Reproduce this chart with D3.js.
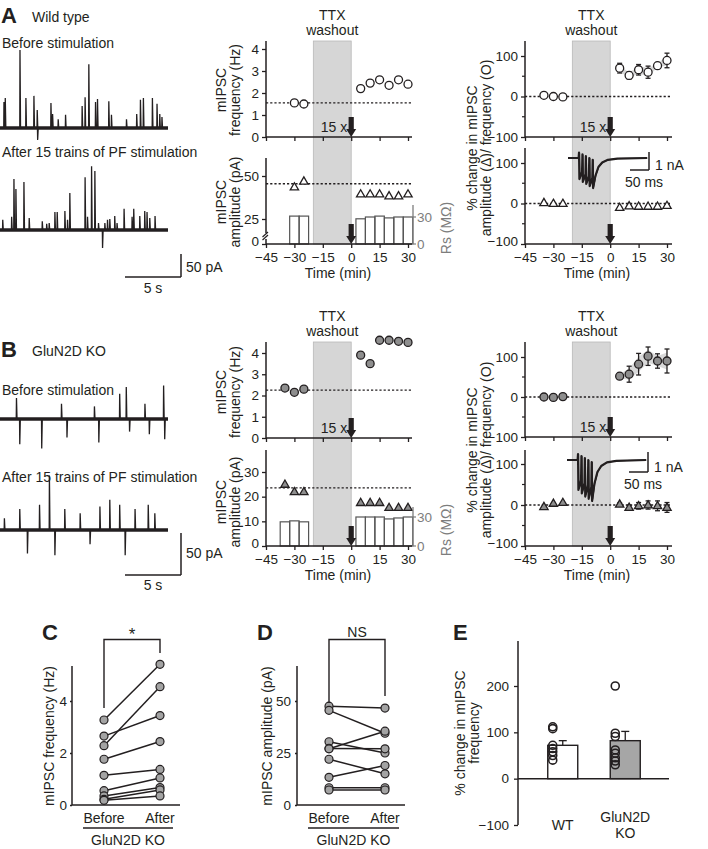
<!DOCTYPE html>
<html><head><meta charset="utf-8">
<script src="https://cdn.jsdelivr.net/npm/d3@7/dist/d3.min.js"></script>
<style>
body{margin:0;background:#fff;}
svg text{font-family:"Liberation Sans",Arial,Helvetica,sans-serif;fill:#231f20;}
</style></head><body>
<svg id="fig" width="708" height="849"></svg>
<script>
// ---------------- DATA ----------------
const timeTicks = [-45, -30, -15, 0, 15, 30];
const washout = [-20, 0];

// Panel A (wild type) – raw values
const aFreqT = [-30, -25, 5, 10, 15, 20, 25, 30];
const aFreq = [1.55, 1.5, 2.2, 2.45, 2.6, 2.35, 2.6, 2.4];
const aFreqBaseline = 1.55;
const aAmpT = [-30, -25, 5, 10, 15, 20, 25, 30];
const aAmp = [43.6, 47, 39.5, 39.5, 39.5, 38.4, 38.4, 39.5];
const aAmpBaseline = 45.5;
const aRsT = [-30, -25, 5, 10, 15, 20, 25, 30];
const aRs = [31, 31, 28, 30, 31, 29, 30, 30];
// Panel A – % change
const aPctT = [-35, -30, -25, 5, 10, 15, 20, 25, 30];
const aPctFreq = [3, 0, -1, 70, 52, 66, 60, 76, 89];
const aPctFreqErr = [0, 0, 0, 12, 9, 13, 15, 6, 18];
const aPctAmp = [2, 0, 0, -10, -6, -7, -7, -7, -5];
const aPctAmpErr = [0, 0, 0, 2, 2, 2, 2, 2, 2];

// Panel B (GluN2D KO) – raw values
const bFreqT = [-35, -30, -25, 5, 10, 15, 20, 25, 30];
const bFreq = [2.35, 2.15, 2.3, 3.9, 3.5, 4.6, 4.6, 4.55, 4.5];
const bFreqBaseline = 2.25;
const bAmpT = [-35, -30, -25, 5, 10, 15, 20, 25, 30];
const bAmp = [25, 22, 22, 17.6, 17.6, 17.6, 15.6, 15.6, 15.6];
const bAmpBaseline = 23.6;
const bRsT = [-35, -30, -25, 5, 10, 15, 20, 25, 30];
const bRs = [25, 26, 25, 30, 30, 30, 28, 29, 30];
// Panel B – % change
const bPctT = [-35, -30, -25, 5, 10, 15, 20, 25, 30];
const bPctFreq = [0, -1, 1, 52, 57, 82, 102, 90, 90];
const bPctFreqErr = [0, 0, 0, 8, 20, 27, 23, 18, 30];
const bPctAmp = [-4, 4, 6, 2, -6, -2, 0, -2, -6];
const bPctAmpErr = [0, 0, 0, 3, 5, 8, 10, 12, 12];

// Example mIPSC traces: event time (s) and amplitude (pA)
const aBeforeT = [0.36,0.48,1.82,2.36,3.09,3.39,3.43,4.64,4.79,5.3,5.97,7.48,7.75,8.09,8.7,8.88,9.91,10.15,11.52,12.45,12.79,13.06,13.88,14.3,14.55,14.75];
const aBeforeA = [59,68,177,68,73,41,-27,57,32,20,30,50,70,145,59,66,61,30,20,32,64,68,68,55,32,25];
const aAfterT = [0.25,1.06,1.27,1.45,2.18,2.66,3.85,4.25,4.48,5.0,5.21,5.91,6.15,6.36,7.75,7.97,8.34,8.64,8.97,9.34,9.55,9.79,10.0,10.45,10.66,11.3,12.03,12.18,12.73,13.18,13.39,13.64,14.12];
const aAfterA = [23,30,116,93,109,27,20,14,16,41,41,43,23,84,120,30,145,134,16,-41,16,23,25,32,16,48,30,48,32,43,41,27,32];
const bBeforeT = [1.5,1.8,3.8,5.6,6.1,8.6,9.0,10.9,11.5,11.8,13.2,13.6,14.9,15.0];
const bBeforeA = [25,-30,-35,18,-22,15,-28,30,38,-15,18,-18,40,-24];
const bAfterT = [0.4,1.8,2.5,3.6,4.5,5.0,5.9,7.3,8.2,9.1,10.0,10.9,11.4,12.3,13.5,14.1];
const bAfterA = [14,25,-28,30,65,-30,25,20,-17,28,36,30,-30,25,30,20];

// EPSC insets (time ms, current nA)
const insetT = [0,28,29,30,37,38,39,46,47,48,55,56,57,64,65,66,72,80,90,105,130,208];
const insetA = [0,0,0.3,-1.17,-0.75,0.2,-1.33,-0.9,0.1,-1.44,-1.0,0,-1.56,-1.1,-0.1,-1.67,-1.0,-0.5,-0.25,-0.1,-0.03,0];
const insetB = [0,0,0.3,-1.5,-1.0,0.2,-1.67,-1.15,0.1,-1.83,-1.25,0,-1.94,-1.35,-0.1,-2.05,-1.2,-0.6,-0.3,-0.12,-0.04,0];

// Panel C: frequency (Hz) before/after
const cBefore = [3.27, 2.28, 2.65, 1.76, 1.14, 0.55, 0.35, 0.22, 0.18];
const cAfter = [5.41, 4.55, 3.44, 2.44, 1.37, 1.04, 0.67, 0.58, 0.35];
// Panel D: amplitude (pA) before/after
const dBefore = [47.5, 45.5, 30.4, 27.2, 27, 22, 13.3, 8.3, 7.2];
const dAfter = [46.6, 34.5, 25, 27, 35.5, 15, 19, 8.3, 7.2];
// Panel E: % change in frequency
const eGroups = ['WT', 'GluN2D KO'];
const eMean = [72, 82];
const eSem = [10, 20];
const eWT = [112, 108, 72, 65, 58, 50, 40];
const eKO = [200, 98, 91, 62, 55, 45, 38, 30];

// ---------------- DRAWING ----------------
const svg = d3.select('#fig');
const INK = '#231f20';
const GREYDOT = '#8e8e8e';
const SHADE = '#d6d6d6';
const RSGREY = '#7d7d7d';

function text(x, y, s, o = {}) {
  const t = svg.append('text').attr('x', x).attr('y', y).text(s)
    .attr('font-size', o.size || 14).attr('text-anchor', o.anchor || 'start');
  if (o.weight) t.attr('font-weight', o.weight);
  if (o.fill) t.style('fill', o.fill);
  if (o.rotate) t.attr('transform', `rotate(${o.rotate},${x},${y})`);
  return t;
}
function vtext(x, y, s, o = {}) { return text(x, y, s, Object.assign({ anchor: 'middle', rotate: -90 }, o)); }
function ln(x1, y1, x2, y2, o = {}) {
  return svg.append('line').attr('x1', x1).attr('y1', y1).attr('x2', x2).attr('y2', y2)
    .attr('stroke', o.stroke || INK).attr('stroke-width', o.w || 1.4)
    .attr('stroke-dasharray', o.dash || null);
}
function arrow(x, y0, y1) {
  svg.append('rect').attr('x', x - 2.6).attr('y', y0).attr('width', 5.2).attr('height', y1 - y0 - 7).attr('fill', INK);
  svg.append('path').attr('d', `M${x - 5},${y1 - 8}L${x + 5},${y1 - 8}L${x},${y1}Z`).attr('fill', INK);
}
function styleAxis(g, size) {
  g.select('.domain').remove();
  g.selectAll('.tick line').attr('stroke', INK).attr('stroke-width', 1.3);
  g.selectAll('.tick text').attr('font-size', size || 13.5);
  g.attr('font-family', null);
}
function yAxis(scale, x, ticks, top, bottom, minor, tk = 4, pad = 3) {
  const g = svg.append('g').attr('transform', `translate(${x},0)`);
  g.call(d3.axisLeft(scale).tickValues(ticks).tickSize(tk).tickPadding(pad).tickSizeOuter(0).tickFormat(d3.format('d')));
  styleAxis(g);
  if (minor) minor.forEach(v => ln(x - 3, scale(v), x, scale(v), { w: 1.2 }));
  ln(x, top, x, bottom, { w: 1.5 });
  return g;
}
function xTimeAxis(x, y, xEnd, labels) {
  const g = svg.append('g').attr('transform', `translate(0,${y})`);
  g.call(d3.axisBottom(x).tickValues(timeTicks).tickSize(4).tickSizeOuter(0)
    .tickFormat(labels ? d3.format('d') : ''));
  styleAxis(g);
  g.selectAll('.tick text').attr('dy', '0.8em');
  ln(x.range()[0], y, xEnd, y, { w: 1.5 });
}
function circles(x, y, T, V, fill) {
  svg.append('g').selectAll('circle').data(T).join('circle')
    .attr('cx', d => x(d)).attr('cy', (d, i) => y(V[i])).attr('r', 4)
    .attr('fill', fill).attr('stroke', INK).attr('stroke-width', 1.3);
}
const triSym = d3.symbol(d3.symbolTriangle).size(30);
function triangles(x, y, T, V, fill) {
  svg.append('g').selectAll('path').data(T).join('path')
    .attr('d', triSym).attr('transform', (d, i) => `translate(${x(d)},${y(V[i]) + 0.5})`)
    .attr('fill', fill).attr('stroke', INK).attr('stroke-width', 1.3);
}
function errBars(x, y, T, V, E) {
  T.forEach((t, i) => {
    if (!E[i]) return;
    const cx = x(t);
    ln(cx, y(V[i] - E[i]), cx, y(V[i] + E[i]), { w: 1.3 });
    ln(cx - 2.5, y(V[i] - E[i]), cx + 2.5, y(V[i] - E[i]), { w: 1.3 });
    ln(cx - 2.5, y(V[i] + E[i]), cx + 2.5, y(V[i] + E[i]), { w: 1.3 });
  });
}
function band(x, y, T, V, E) {
  const idx = T.map((t, i) => i).filter(i => T[i] > 0);
  const area = d3.area().x(i => x(T[i])).y0(i => y(V[i] - E[i] * 0.7)).y1(i => y(V[i] + E[i] * 0.7));
  svg.append('path').attr('d', area(idx)).attr('fill', '#d9d9d9');
}

function midColumn(p) {
  const x = d3.scaleLinear().domain([-45, 30]).range([266, 408]);
  const xEnd = 412;
  svg.append('rect').attr('x', x(washout[0])).attr('width', x(washout[1]) - x(washout[0]))
    .attr('y', p.shadeTop).attr('height', p.shadeBot - p.shadeTop)
    .attr('fill', SHADE).attr('stroke', '#b8b8b8').attr('stroke-width', 0.8);
  text(x(-10), p.shadeTop - 21, 'TTX', { anchor: 'middle' });
  text(x(-10), p.shadeTop - 6, 'washout', { anchor: 'middle' });
  // frequency
  const yF = p.yF;
  yAxis(yF, 266, [0, 1, 2, 3, 4], p.shadeTop, yF(0));
  xTimeAxis(x, yF(0), xEnd, false);
  ln(266, yF(p.fBase), xEnd, yF(p.fBase), { dash: '2.2,2', w: 1.3 });
  circles(x, yF, p.fT, p.f, p.fill);
  arrow(x(0), yF(0) - 20, yF(0));
  text(x(0) - 4, yF(0) - 5, '15 x', { anchor: 'end' });
  vtext(p.labX1, p.fLabY, 'mIPSC');
  vtext(p.labX2, p.fLabY, 'frequency (Hz)');
  // Rs bars
  const yR = p.yR;
  const bw = x(5) - x(0);
  svg.append('g').selectAll('rect').data(p.rT).join('rect')
    .attr('x', d => x(d) - bw / 2).attr('width', bw)
    .attr('y', (d, i) => yR(p.r[i])).attr('height', (d, i) => yR(0) - yR(p.r[i]))
    .attr('fill', 'none').attr('stroke', '#555').attr('stroke-width', 1.2);
  // amplitude
  const yA = p.yA;
  const ga = yAxis(yA, 266, p.aTicks, p.aTop, yA(0));
  ga.selectAll('.tick text').filter(d => d === 0).attr('dy', '0.1em');
  if (p.brk) {
    svg.append('rect').attr('x', 262).attr('y', p.brk - 3).attr('width', 8).attr('height', 6).attr('fill', '#fff');
    ln(262.5, p.brk + 1, 268, p.brk - 4, { w: 1.2 });
    ln(262.5, p.brk + 4, 268, p.brk - 1, { w: 1.2 });
  }
  ln(266, yA(p.aBase), xEnd, yA(p.aBase), { dash: '2.2,2', w: 1.3 });
  triangles(x, yA, p.aT, p.a, p.fill);
  arrow(x(0), yA(0) - 20, yA(0));
  xTimeAxis(x, yA(0), xEnd, true);
  text(x(-7), yA(0) + 34, 'Time (min)', { anchor: 'middle' });
  vtext(p.labX1, p.aLabY, 'mIPSC');
  vtext(p.labX2, p.aLabY, 'amplitude (pA)');
  // Rs axis (right)
  ln(413, yR(0), 413, p.rTop, { stroke: RSGREY, w: 1.3 });
  [0, 30].forEach(v => {
    ln(413, yR(v), 416, yR(v), { stroke: RSGREY, w: 1.2 });
    text(417, yR(v) + 5, String(v), { fill: RSGREY, size: 13.5 });
  });
  vtext(451, p.rLabY, 'Rs (MΩ)', { fill: RSGREY });
}

function rightColumn(p) {
  const x = d3.scaleLinear().domain([-45, 30]).range([525, 667]);
  const xEnd = 672;
  svg.append('rect').attr('x', x(washout[0])).attr('width', x(washout[1]) - x(washout[0]))
    .attr('y', p.shadeTop).attr('height', p.shadeBot - p.shadeTop)
    .attr('fill', SHADE).attr('stroke', '#b8b8b8').attr('stroke-width', 0.8);
  text(x(-10), p.shadeTop - 21, 'TTX', { anchor: 'middle' });
  text(x(-10), p.shadeTop - 6, 'washout', { anchor: 'middle' });
  // frequency % change
  const yF = p.yF;
  yAxis(yF, 525, [-100, 0, 100], p.shadeTop, yF(-100), [-50, 50]);
  xTimeAxis(x, yF(-100), xEnd, false);
  ln(525, yF(0), xEnd, yF(0), { dash: '2.2,2', w: 1.3 });
  band(x, yF, p.T, p.f, p.fe);
  errBars(x, yF, p.T, p.f, p.fe);
  circles(x, yF, p.T, p.f, p.fill);
  arrow(x(0), yF(-100) - 20, yF(-100));
  text(x(0) - 4, yF(-100) - 5, '15 x', { anchor: 'end' });
  // amplitude % change
  const yA = p.yA;
  const ga = yAxis(yA, 525, [-100, 0, 100], p.aTop, yA(-100), [-50, 50]);
  ga.selectAll('.tick text').filter(d => d === -100).attr('dy', '0.1em');
  ln(525, yA(0), xEnd, yA(0), { dash: '2.2,2', w: 1.3 });
  errBars(x, yA, p.T, p.a, p.ae);
  triangles(x, yA, p.T, p.a, p.fill);
  arrow(x(0), yA(-100) - 20, yA(-100));
  xTimeAxis(x, yA(-100), xEnd, true);
  text(x(-7), yA(-100) + 34, 'Time (min)', { anchor: 'middle' });
  vtext(477, p.labY, '% change in mIPSC');
  vtext(491, p.labY, 'amplitude (Δ)/ frequency (O)');
  // EPSC inset
  const ix = d3.scaleLinear().domain([0, 50]).range([0, 19]);
  const iy = d3.scaleLinear().domain([0, 1]).range([0, -p.nA]);
  const path = d3.line().x(d => p.insX + ix(d[0])).y(d => p.insY + iy(d[1]));
  const pts = insetT.map((t, i) => [t, p.inset[i]]);
  svg.append('path').attr('d', path(pts)).attr('fill', 'none').attr('stroke', INK).attr('stroke-width', 2.2).attr('stroke-linejoin', 'round');
  svg.append('path').attr('d', path(pts.map(d => [d[0] + 1.2, d[1] * 0.96]))).attr('fill', 'none').attr('stroke', INK).attr('stroke-width', 1.2);
  const sbx = p.insX + 81;
  ln(sbx, p.sbTop, sbx, p.sbTop + p.nA, { w: 1.5 });
  ln(sbx - 19, p.sbTop + p.nA, sbx, p.sbTop + p.nA, { w: 1.5 });
  text(sbx + 6, p.sbTop + p.nA + 0, '1 nA');
  text(sbx - 24, p.sbTop + p.nA + 17, '50 ms');
}

function trace(T, A, x0, yBase, pxPerPA) {
  const sx = d3.scaleLinear().domain([0, 15.3]).range([x0, x0 + 168]);
  const sy = d3.scaleLinear().domain([0, 100]).range([yBase, yBase - 100 * pxPerPA]);
  ln(x0, yBase, x0 + 168, yBase, { w: 3.6 });
  const pts = [[0, 0]];
  T.forEach((t, i) => { pts.push([t - 0.02, 0], [t, A[i]], [t + 0.05, 0]); });
  pts.push([15.3, 0]);
  svg.append('path').attr('d', d3.line().x(d => sx(d[0])).y(d => sy(d[1]))(pts))
    .attr('fill', 'none').attr('stroke', INK).attr('stroke-width', 1.3);
}
function scaleBar(x, yBottom, hPx, lab50y, lab5y) {
  ln(x, yBottom - hPx, x, yBottom, { w: 1.5 });
  ln(x - 56, yBottom, x, yBottom, { w: 1.5 });
  text(x + 5, lab50y, '50 pA');
  text(x - 28, lab5y, '5 s', { anchor: 'middle' });
}

// ---- Panel A left ----
text(1, 23, 'A', { size: 22, weight: 'bold' });
text(32, 22, 'Wild type');
text(2, 48, 'Before stimulation');
trace(aBeforeT, aBeforeA, 0, 128, 0.44);
text(2, 157, 'After 15 trains of PF stimulation');
trace(aAfterT, aAfterA, 0, 230, 0.44);
scaleBar(181, 277, 23, 272, 293);

// ---- Panel B left ----
text(1, 357, 'B', { size: 22, weight: 'bold' });
text(32, 356, 'GluN2D KO');
text(2, 395, 'Before stimulation');
trace(bBeforeT, bBeforeA, 0, 419, 0.84);
text(2, 482, 'After 15 trains of PF stimulation');
trace(bAfterT, bAfterA, 0, 530, 0.84);
scaleBar(181, 575, 42, 558, 590);

// ---- Middle columns ----
midColumn({
  yF: d3.scaleLinear().domain([0, 4]).range([137, 49]), fBase: aFreqBaseline, fT: aFreqT, f: aFreq,
  yA: d3.scaleLinear().domain([0, 25, 60]).range([244, 219, 158.8]), aTicks: [0, 25, 50], aTop: 158, brk: 236,
  aBase: aAmpBaseline, aT: aAmpT, a: aAmp,
  yR: d3.scaleLinear().domain([0, 30]).range([244, 217]), rT: aRsT, r: aRs, rTop: 205,
  fill: '#fff', shadeTop: 41, shadeBot: 244, labX1: 226, labX2: 240, fLabY: 90, aLabY: 202, rLabY: 228
});
midColumn({
  yF: d3.scaleLinear().domain([0, 4]).range([438, 353]), fBase: bFreqBaseline, fT: bFreqT, f: bFreq,
  yA: d3.scaleLinear().domain([0, 30]).range([546, 472]), aTicks: [0, 10, 20, 30], aTop: 450, brk: null,
  aBase: bAmpBaseline, aT: bAmpT, a: bAmp,
  yR: d3.scaleLinear().domain([0, 30]).range([546, 517]), rT: bRsT, r: bRs, rTop: 507,
  fill: GREYDOT, shadeTop: 342, shadeBot: 546, labX1: 226, labX2: 240, fLabY: 392, aLabY: 502, rLabY: 530
});

// ---- Right columns ----
rightColumn({
  yF: d3.scaleLinear().domain([-100, 100]).range([137, 56]), yA: d3.scaleLinear().domain([-100, 100]).range([244, 163]),
  T: aPctT, f: aPctFreq, fe: aPctFreqErr, a: aPctAmp, ae: aPctAmpErr, fill: '#fff',
  shadeTop: 41, shadeBot: 244, aTop: 148, labY: 148,
  inset: insetA, insX: 568, insY: 158, nA: 18, sbTop: 152
});
rightColumn({
  yF: d3.scaleLinear().domain([-100, 100]).range([437, 357]), yA: d3.scaleLinear().domain([-100, 100]).range([546, 464]),
  T: bPctT, f: bPctFreq, fe: bPctFreqErr, a: bPctAmp, ae: bPctAmpErr, fill: GREYDOT,
  shadeTop: 342, shadeBot: 546, aTop: 450, labY: 450,
  inset: insetB, insX: 567, insY: 460, nA: 20, sbTop: 452
});

// ---- Panel C & D (paired) ----
function paired(p) {
  text(p.letterX, 640, p.letter, { size: 22, weight: 'bold' });
  const y = p.y;
  yAxis(y, p.axX, p.ticks, 666, y(0), null, 2, p.pad);
  ln(p.axX, y(0), p.axEnd, y(0), { w: 1.5 });
  p.before.forEach((b, i) => ln(p.xb, y(b), p.xa, y(p.after[i]), { w: 1.5 }));
  const pts = p.before.map(v => [p.xb, v]).concat(p.after.map(v => [p.xa, v]));
  svg.append('g').selectAll('circle').data(pts).join('circle')
    .attr('cx', d => d[0]).attr('cy', d => y(d[1])).attr('r', 4)
    .attr('fill', '#a3a3a3').attr('stroke', INK).attr('stroke-width', 1.2);
  svg.append('path').attr('d', `M${p.xb},${p.legL}V639.5H${p.xa}V${p.legR}`)
    .attr('fill', 'none').attr('stroke', INK).attr('stroke-width', 1.4);
  text((p.xb + p.xa) / 2, p.sigY, p.sig, { anchor: 'middle', size: p.sigSize });
  text(p.xb, 823, 'Before', { anchor: 'middle' });
  text(p.xa, 823, 'After', { anchor: 'middle' });
  ln(p.ulL, 828, p.ulR, 828, { w: 1.3 });
  text((p.ulL + p.ulR) / 2, 845, 'GluN2D KO', { anchor: 'middle' });
  vtext(p.labX, 736, p.label);
}
paired({
  letter: 'C', letterX: 42, y: d3.scaleLinear().domain([0, 4]).range([805, 701]), ticks: [0, 2, 4], pad: 3,
  axX: 72, axEnd: 180, xb: 104, xa: 160, before: cBefore, after: cAfter, legL: 708, legR: 653,
  sig: '*', sigY: 640, sigSize: 17, ulL: 83, ulR: 173, labX: 54, label: 'mIPSC  frequency (Hz)'
});
paired({
  letter: 'D', letterX: 257, y: d3.scaleLinear().domain([0, 50]).range([805, 701]), ticks: [0, 25, 50], pad: 4,
  axX: 297, axEnd: 405, xb: 329, xa: 385, before: dBefore, after: dAfter, legL: 703, legR: 696,
  sig: 'NS', sigY: 637, sigSize: 14, ulL: 308, ulR: 399, labX: 272, label: 'mIPSC  amplitude (pA)'
});

// ---- Panel E ----
text(453, 640, 'E', { size: 22, weight: 'bold' });
const yE = d3.scaleLinear().domain([-100, 200]).range([825, 686]);
const xE = d3.scaleBand().domain(eGroups).range([533, 655]).paddingInner(0.52).paddingOuter(0.236);
yAxis(yE, 518, [-100, 0, 100, 200], 641, 825, null, 4, 5);
eGroups.forEach((g, i) => {
  const bx = xE(g), bw = xE.bandwidth(), cx = bx + bw / 2;
  ln(cx, yE(eMean[i]), cx, yE(eMean[i] + eSem[i]), { w: 1.3 });
  ln(cx - 4, yE(eMean[i] + eSem[i]), cx + 4, yE(eMean[i] + eSem[i]), { w: 1.3 });
  svg.append('rect').attr('x', bx).attr('width', bw).attr('y', yE(eMean[i])).attr('height', yE(0) - yE(eMean[i]))
    .attr('fill', i === 0 ? '#fff' : '#a6a6a6').attr('stroke', INK).attr('stroke-width', 1.4);
  const vals = i === 0 ? eWT : eKO;
  svg.append('g').selectAll('circle').data(vals).join('circle')
    .attr('cx', cx - 10).attr('cy', d => yE(d)).attr('r', 4)
    .attr('fill', 'none').attr('stroke', INK).attr('stroke-width', 1.6);
});
ln(518, yE(0), 669, yE(0), { w: 1.5 });
text(xE('WT') + xE.bandwidth() / 2, 830, 'WT', { anchor: 'middle' });
text(xE('GluN2D KO') + xE.bandwidth() / 2, 822, 'GluN2D', { anchor: 'middle' });
text(xE('GluN2D KO') + xE.bandwidth() / 2, 838, 'KO', { anchor: 'middle' });
vtext(465, 733, '% change in mIPSC');
vtext(479, 733, 'frequency');
</script></body></html>
